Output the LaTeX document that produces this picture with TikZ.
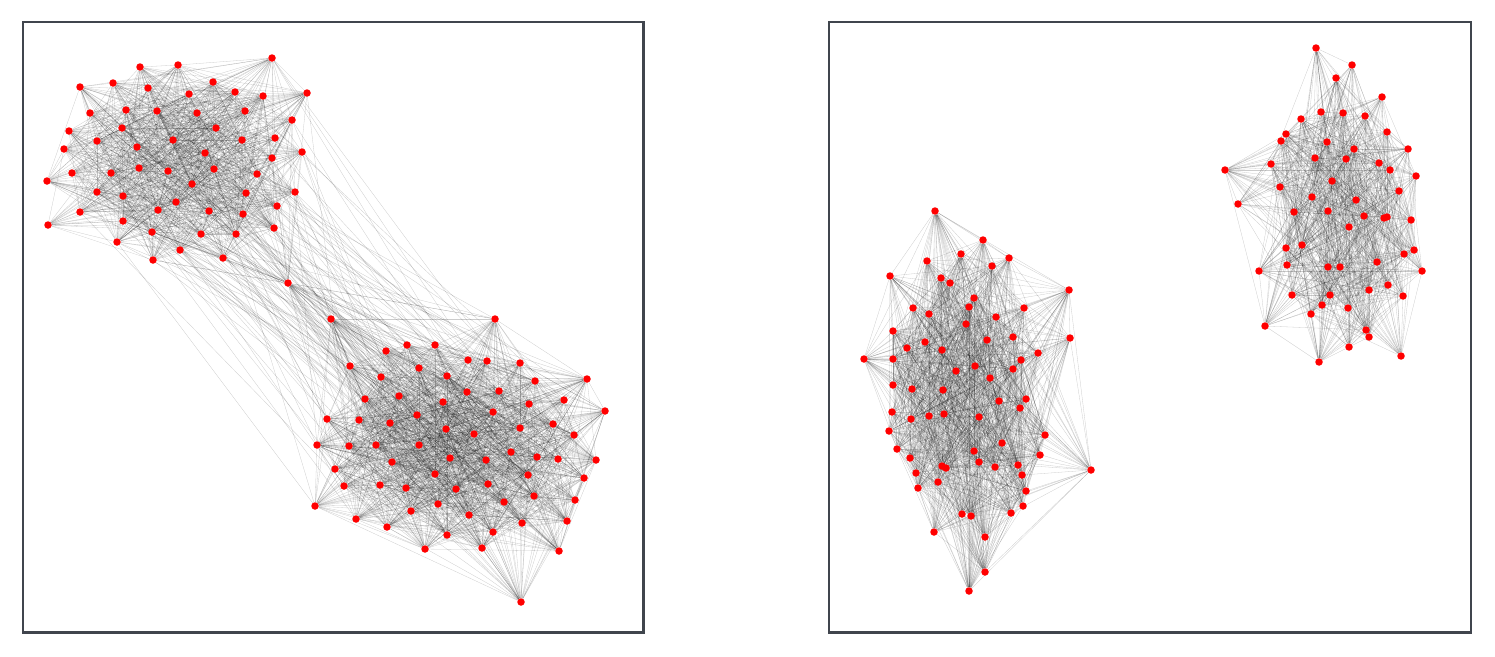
\documentclass[tikz,border=0pt]{standalone}
\pgfdeclarelayer{bg}
\pgfsetlayers{bg,main}
\definecolor{framec}{HTML}{40454D}
\newcommand\clusteredges[3]{%
  \pgfmathtruncatemacro\nm{#2-1}%
  \foreach \i in {1,...,\nm}{%
    \pgfmathtruncatemacro\s{\i+1}%
    \foreach \j in {\s,...,#2}{%
      \pgfmathparse{rnd}%
      \ifdim\pgfmathresult pt<#3pt \draw[edge] (#1\i) -- (#1\j);\fi
    }}}
\newcommand\crossedges[5]{%
  \foreach \i in {1,...,#2}{%
    \foreach \j in {1,...,#4}{%
      \pgfmathparse{rnd}%
      \ifdim\pgfmathresult pt<#5pt \draw[edge] (#1\i) -- (#3\j);\fi
    }}}
\begin{document}
\begin{tikzpicture}[x=1pt,y=-1pt,
  vtx/.style={circle,fill=red,draw=none,inner sep=0pt,minimum size=7.5pt},
  edge/.style={draw=black,line width=0.3pt,draw opacity=0.2},
  frame/.style={draw=framec,line width=2.6pt}]
\useasboundingbox (0,0) rectangle (1495,656);
\pgfmathsetseed{7}
% frames
\draw[frame] (23,22) rectangle (643.5,632.5);
\draw[frame] (829,22) rectangle (1471,632.5);
% cluster A
\foreach \x/\y [count=\k] in {272/58, 140/67, 178/65, 307/93, 80/87, 113/83, 148/88, 213/82, 189/94, 235/92, 263/96, 90/113, 126/110, 157/111, 197/113, 245/111, 292/120, 69/131, 122/128, 216/128, 64/149, 97/141, 137/147, 173/140, 242/140, 275/138, 302/152, 205/153, 272/158, 47/181, 72/173, 111/173, 139/168, 168/171, 214/169, 257/174, 192/184, 97/192, 123/196, 246/193, 295/192, 176/202, 80/212, 158/210, 209/211, 243/214, 277/206, 48/225, 123/221, 152/232, 201/234, 236/234, 274/228, 117/242, 180/250, 153/260, 223/258}
  \node[vtx] (a\k) at (\x,\y) {};
% bridge
\node[vtx] (m1) at (288,283) {};
% cluster B
\foreach \x/\y [count=\k] in {331/319, 495/319, 386/351, 407/345, 435/345, 468/360, 487/361, 520/363, 350/366, 419/368, 381/377, 447/376, 535/381, 587/379, 467/392, 499/391, 399/396, 365/399, 443/402, 529/404, 564/400, 605/411, 493/412, 417/415, 327/419, 359/420, 390/423, 553/424, 446/429, 520/428, 474/434, 574/435, 317/445, 349/446, 376/445, 419/445, 511/452, 450/458, 486/460, 537/457, 558/459, 596/460, 392/462, 335/469, 435/474, 528/475, 584/478, 344/486, 380/485, 406/488, 456/489, 488/484, 534/496, 504/502, 575/500, 315/506, 438/504, 411/511, 469/515, 356/519, 387/527, 522/523, 567/521, 447/535, 493/532, 425/549, 482/548, 559/551, 521/602}
  \node[vtx] (b\k) at (\x,\y) {};
% cluster C
\foreach \x/\y [count=\k] in {935/211, 983/240, 961/254, 1009/258, 927/261, 992/266, 890/276, 941/278, 950/283, 1069/290, 974/298, 913/308, 969/307, 1024/308, 929/314, 996/317, 966/324, 893/331, 1070/338, 925/342, 987/340, 1013/337, 907/348, 942/350, 864/359, 893/359, 1038/353, 1021/360, 975/366, 956/371, 1013/369, 990/378, 893/385, 912/389, 943/390, 1026/399, 999/401, 1020/408, 892/412, 929/416, 944/414, 911/419, 979/417, 889/431, 1045/435, 1002/443, 897/449, 974/451, 910/458, 1040/455, 979/462, 942/466, 946/468, 995/467, 1018/465, 1091/470, 916/473, 1022/475, 938/482, 918/488, 1026/491, 1023/506, 962/514, 971/516, 1011/513, 934/532, 985/537, 985/572, 969/591}
  \node[vtx] (c\k) at (\x,\y) {};
% cluster D
\foreach \x/\y [count=\k] in {1316/48, 1352/65, 1336/78, 1382/97, 1321/112, 1343/113, 1365/116, 1301/119, 1387/132, 1286/134, 1281/141, 1327/142, 1354/149, 1408/149, 1315/158, 1346/159, 1379/163, 1271/164, 1390/170, 1225/170, 1416/176, 1332/181, 1280/187, 1399/191, 1312/197, 1356/200, 1238/204, 1294/212, 1328/211, 1364/216, 1384/218, 1387/217, 1411/220, 1349/227, 1286/248, 1302/245, 1404/254, 1414/250, 1287/265, 1328/267, 1340/267, 1377/262, 1422/271, 1259/271, 1388/285, 1369/290, 1292/295, 1330/295, 1403/296, 1322/305, 1311/314, 1348/308, 1366/330, 1369/337, 1265/326, 1349/347, 1401/356, 1319/362}
  \node[vtx] (d\k) at (\x,\y) {};
% edges
\begin{pgfonlayer}{bg}
\clusteredges{a}{57}{0.5}
\clusteredges{b}{69}{0.5}
\clusteredges{c}{69}{0.5}
\clusteredges{d}{58}{0.5}
\crossedges{a}{57}{b}{69}{0.03}
\crossedges{m}{1}{a}{57}{0.4}
\crossedges{m}{1}{b}{69}{0.4}
\end{pgfonlayer}
\end{tikzpicture}
\end{document}
